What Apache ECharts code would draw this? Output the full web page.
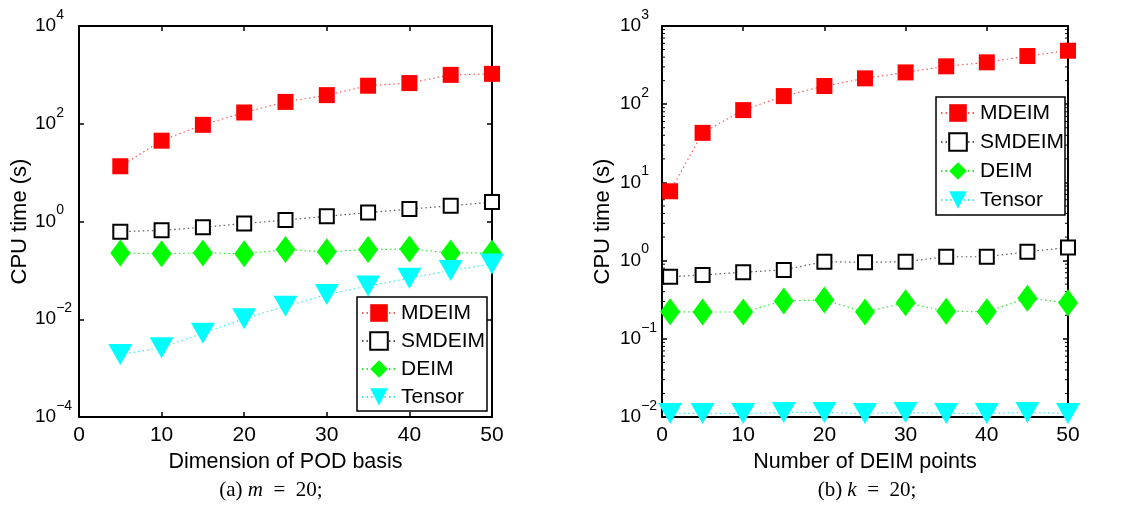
<!DOCTYPE html>
<html>
<head>
<meta charset="utf-8">
<script src="https://cdn.jsdelivr.net/npm/echarts@6/dist/echarts.min.js"></script>
<style>
html,body{margin:0;padding:0;background:#fff;}
#chart{width:1129px;height:514px;}
</style>
</head>
<body>
<div id="chart"></div>
<script>
// ---------- data ----------
const seriesNames = ['MDEIM', 'SMDEIM', 'DEIM', 'Tensor'];

// (a) m = 20 : x = dimension of POD basis
const podDims = [5, 10, 15, 20, 25, 30, 35, 40, 45, 50];
const leftMDEIM  = [13.5, 45, 95, 170, 280, 385, 600, 680, 1000, 1050];
const leftSMDEIM = [0.62, 0.66, 0.76, 0.91, 1.07, 1.28, 1.52, 1.8, 2.1, 2.5];
const leftDEIM   = [0.226, 0.22, 0.227, 0.22, 0.266, 0.24, 0.266, 0.275, 0.227, 0.227];
const leftTensor = [0.0019, 0.0026, 0.0052, 0.0102, 0.0185, 0.032, 0.048, 0.069, 0.10, 0.135];

// (b) k = 20 : x = number of DEIM points
const deimPts = [1, 5, 10, 15, 20, 25, 30, 35, 40, 45, 50];
const rightMDEIM  = [7.7, 43, 84, 127, 171, 214, 255, 305, 343, 413, 483];
const rightSMDEIM = [0.62, 0.656, 0.71, 0.76, 0.97, 0.95, 0.97, 1.12, 1.12, 1.30, 1.47];
const rightDEIM   = [0.222, 0.22, 0.22, 0.305, 0.314, 0.22, 0.29, 0.225, 0.222, 0.33, 0.29];
const rightTensor = [0.0111, 0.0111, 0.0111, 0.01143, 0.01143, 0.0111, 0.01143, 0.0111, 0.0111, 0.01143, 0.0111];

// tick labels (exponents of 10)
const xTicks = [0, 10, 20, 30, 40, 50];
const leftExpTicks = [-4, -2, 0, 2, 4];
const rightExpTicks = [-2, -1, 0, 1, 2, 3];
// log minor ticks for right panel
const rightMinorTicks = [];
[-2, -1, 0, 1, 2].forEach(function (e) {
  [2, 3, 4, 5, 6, 7, 8, 9].forEach(function (m) { rightMinorTicks.push(m * Math.pow(10, e)); });
});

const captions = ['(a) {i|m}  =  20;', '(b) {i|k}  =  20;'];
const xNames = ['Dimension of POD basis', 'Number of DEIM points'];
const yName = 'CPU time (s)';

// ---------- styles ----------
const FONT = 'Liberation Sans, Arial, Helvetica, sans-serif';
const SERIF = 'Liberation Serif, Times New Roman, serif';
const dot = [1.5, 3];
const seriesStyle = {
  MDEIM:  { symbol: 'rect', symbolSize: 16, itemStyle: { color: '#ff0000', borderWidth: 0 }, lineStyle: { color: '#ff3030', width: 1.2, type: dot, opacity: 0.8 } },
  SMDEIM: { symbol: 'rect', symbolSize: 14, itemStyle: { color: '#ffffff', borderColor: '#000000', borderWidth: 2 }, lineStyle: { color: '#333333', width: 1.2, type: dot, opacity: 0.8 } },
  DEIM:   { symbol: 'diamond', symbolSize: [20, 27], itemStyle: { color: '#00ff00', borderWidth: 0 }, lineStyle: { color: '#00e000', width: 1.2, type: dot, opacity: 0.8 } },
  Tensor: { symbol: 'triangle', symbolSize: [24, 21], symbolRotate: 180, itemStyle: { color: '#00ffff', borderWidth: 0 }, lineStyle: { color: '#00e8e8', width: 1.2, type: dot, opacity: 0.8 } }
};

function expFormatter(v) {
  const e = Math.round(Math.log10(v));
  const s = e < 0 ? '\u2212' + Math.abs(e) : String(e);
  return '{b|10}{e|' + s + '}';
}
const richLabel = {
  b: { fontSize: 19, fontFamily: FONT, color: '#000', lineHeight: 22 },
  e: { fontSize: 14, fontFamily: FONT, color: '#000', lineHeight: 14, padding: [0, 0, 22, 0] }
};

function xAxisCfg(grid, pos, main, name) {
  return {
    type: 'value', gridIndex: grid, position: pos, min: xTicks[0], max: xTicks[xTicks.length - 1],
    interval: xTicks[1] - xTicks[0],
    axisLine: { show: true, onZero: false, lineStyle: { color: '#000', width: 2 } },
    axisTick: { show: true, inside: true, length: 5, lineStyle: { color: '#000', width: 1.5 } },
    axisLabel: { show: main, color: '#000', fontSize: 21, fontFamily: FONT, margin: 8 },
    splitLine: { show: false },
    name: main ? name : '', nameLocation: 'middle', nameGap: 31,
    nameTextStyle: { color: '#000', fontSize: 21.5, fontFamily: FONT }
  };
}
function yAxisCfg(grid, pos, main, exps, interval, margin) {
  return {
    type: 'log', logBase: 10, gridIndex: grid, position: pos,
    min: Math.pow(10, exps[0]), max: Math.pow(10, exps[exps.length - 1]), interval: interval,
    axisLine: { show: true, onZero: false, lineStyle: { color: '#000', width: 2 } },
    axisTick: { show: true, inside: true, length: 5, lineStyle: { color: '#000', width: 1.5 } },
    minorTick: { show: false },
    axisLabel: { show: main, formatter: expFormatter, rich: richLabel, align: 'left', margin: margin },
    splitLine: { show: false },
    name: main ? yName : '', nameLocation: 'middle', nameGap: 48,
    nameTextStyle: { color: '#000', fontSize: 22, fontFamily: FONT }
  };
}

function makeSeries(name, xs, ys, axisIdx) {
  const st = seriesStyle[name];
  return {
    type: 'line', name: name, xAxisIndex: axisIdx, yAxisIndex: axisIdx,
    data: xs.map(function (x, i) { return [x, ys[i]]; }),
    symbol: st.symbol, symbolSize: st.symbolSize, symbolRotate: st.symbolRotate || 0,
    showSymbol: true, showAllSymbol: true, clip: false,
    itemStyle: st.itemStyle, lineStyle: st.lineStyle,
    emphasis: { disabled: true }, animation: false, z: 3
  };
}

const series = [
  makeSeries('MDEIM', podDims, leftMDEIM, 0),
  makeSeries('SMDEIM', podDims, leftSMDEIM, 0),
  makeSeries('DEIM', podDims, leftDEIM, 0),
  makeSeries('Tensor', podDims, leftTensor, 0),
  makeSeries('MDEIM', deimPts, rightMDEIM, 2),
  makeSeries('SMDEIM', deimPts, rightSMDEIM, 2),
  makeSeries('DEIM', deimPts, rightDEIM, 2),
  makeSeries('Tensor', deimPts, rightTensor, 2),
  {
    type: 'custom', name: 'minorTicks', xAxisIndex: 2, yAxisIndex: 2, silent: true, clip: false, z: 1,
    data: rightMinorTicks.map(function (v) { return [xTicks[0], v]; }),
    renderItem: function (params, api) {
      const v = api.value(1);
      const p0 = api.coord([xTicks[0], v]);
      const p1 = api.coord([xTicks[xTicks.length - 1], v]);
      return { type: 'group', children: [
        { type: 'line', shape: { x1: p0[0], y1: p0[1], x2: p0[0] + 3, y2: p0[1] }, style: { stroke: '#000', lineWidth: 1 } },
        { type: 'line', shape: { x1: p1[0] - 3, y1: p1[1], x2: p1[0], y2: p1[1] }, style: { stroke: '#000', lineWidth: 1 } }
      ] };
    }
  }
];

function legendCfg(left, top, padding, gap) {
  return {
    data: seriesNames, orient: 'vertical', left: left, top: top, padding: padding,
    itemGap: gap, itemWidth: 34, itemHeight: 22, selectedMode: false,
    backgroundColor: '#fff', borderColor: '#000', borderWidth: 1.5, borderRadius: 0,
    textStyle: { color: '#000', fontSize: 21, fontFamily: FONT, lineHeight: 22 }, z: 10
  };
}

const option = {
  backgroundColor: '#ffffff',
  animation: false,
  grid: [
    { left: 79, top: 26, width: 413, height: 391 },
    { left: 662, top: 26, width: 406, height: 391 }
  ],
  xAxis: [
    xAxisCfg(0, 'bottom', true, xNames[0]),
    xAxisCfg(0, 'top', false, ''),
    xAxisCfg(1, 'bottom', true, xNames[1]),
    xAxisCfg(1, 'top', false, '')
  ],
  yAxis: [
    yAxisCfg(0, 'left', true, leftExpTicks, 2, 44),
    yAxisCfg(0, 'right', false, leftExpTicks, 2, 44),
    yAxisCfg(1, 'left', true, rightExpTicks, 1, 42),
    yAxisCfg(1, 'right', false, rightExpTicks, 1, 42)
  ],
  legend: [
    legendCfg(357, 297, [5, 2, 3, 4], 6),
    legendCfg(936, 97, [5, 1, 4, 4], 7)
  ],
  series: series,
  graphic: [
    { type: 'text', x: 271, y: 490, style: { text: captions[0], fill: '#000', fontSize: 21, fontFamily: SERIF, textAlign: 'center', textVerticalAlign: 'middle',
      rich: { i: { fontStyle: 'italic', fontSize: 21, fontFamily: SERIF } } } },
    { type: 'text', x: 867, y: 490, style: { text: captions[1], fill: '#000', fontSize: 21, fontFamily: SERIF, textAlign: 'center', textVerticalAlign: 'middle',
      rich: { i: { fontStyle: 'italic', fontSize: 21, fontFamily: SERIF } } } }
  ]
};

const chart = echarts.init(document.getElementById('chart'), null, { renderer: 'canvas' });
chart.setOption(option);
</script>
</body>
</html>
